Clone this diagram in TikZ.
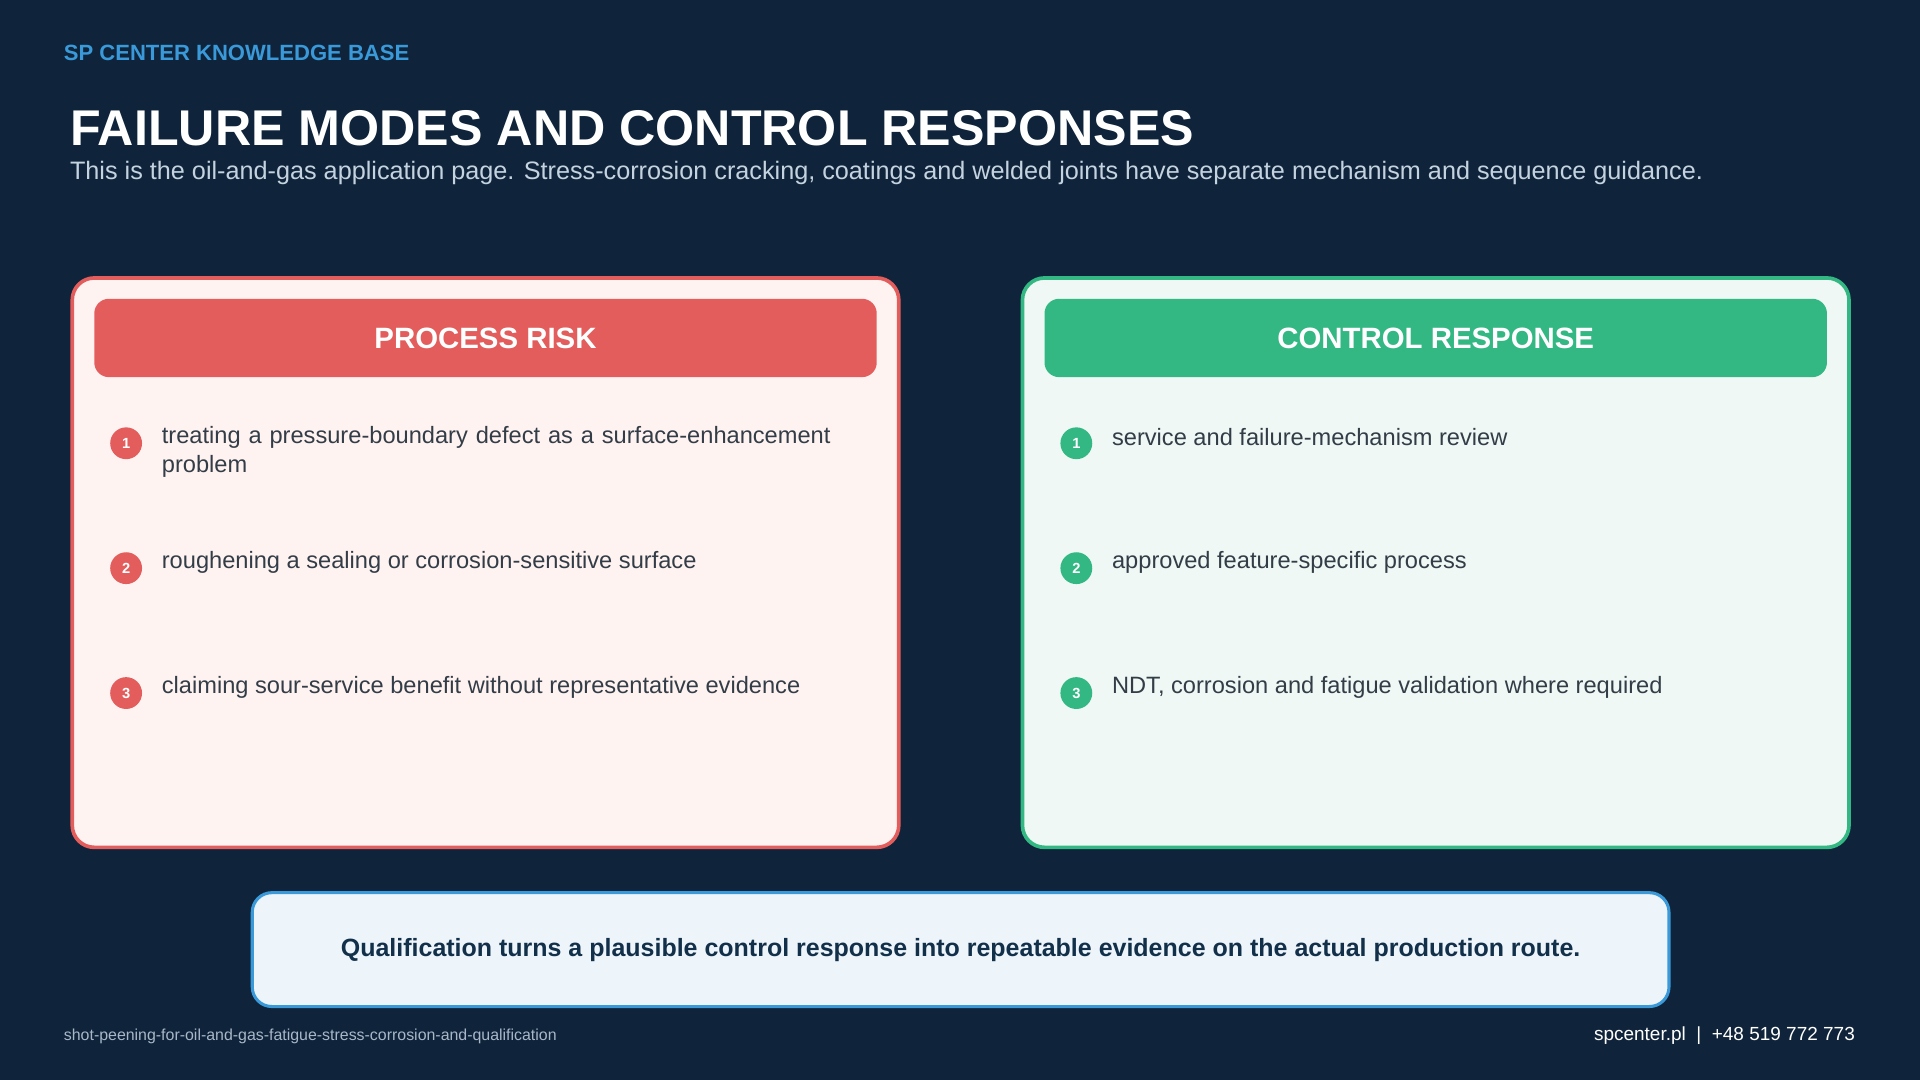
\documentclass[tikz,border=0pt]{standalone}
\usepackage{fontspec}
\setmainfont{Liberation Sans}
\begin{document}
\begin{tikzpicture}[x=1pt,y=-1pt,
  txt/.style={anchor=west,inner sep=0pt,font=\fontsize{19.3}{24}\selectfont,text=itemtxt,align=left},
  num/.style={circle,minimum size=26pt,inner sep=0pt,text=white,font=\fontsize{12}{12}\selectfont\bfseries},
  hdr/.style={rounded corners=12pt,text=white,font=\fontsize{24}{24}\selectfont\bfseries}]
\definecolor{bg}{HTML}{0F243A}
\definecolor{blu}{HTML}{3A9AD9}
\definecolor{red}{HTML}{E35D5D}
\definecolor{redf}{HTML}{FFF3F1}
\definecolor{grn}{HTML}{33B883}
\definecolor{grnf}{HTML}{EFF8F4}
\definecolor{botf}{HTML}{EDF4FA}
\definecolor{dark}{HTML}{13304A}
\definecolor{itemtxt}{HTML}{333D47}
\definecolor{sub}{HTML}{C5D3E0}
\definecolor{foot}{HTML}{A9B8C8}
\fill[bg] (0,0) rectangle (1568,882);
\useasboundingbox (0,0) rectangle (1568,882);
\node[anchor=west,inner sep=0pt,text=blu,font=\fontsize{18}{18}\selectfont\bfseries] (kb) at (52,43) {SP CENTER KNOWLEDGE BASE};
\node[anchor=west,inner sep=0pt,text=white,font=\fontsize{41}{41}\selectfont\bfseries] (title) at (57,105) {FAILURE MODES AND CONTROL RESPONSES};
\node[anchor=west,inner sep=0pt,text=sub,font=\fontsize{20.6}{20.6}\selectfont] (subt) at (57,141) {This is the oil-and-gas application page. Stress-corrosion cracking, coatings and welded joints have separate mechanism and sequence guidance.};
% left panel
\draw[red,line width=3pt,fill=redf,rounded corners=18pt] (59,227) rectangle (734,692);
\node[hdr,fill=red,minimum width=639pt,minimum height=64pt] (lh) at (396.5,276) {PROCESS RISK};
\node[num,fill=red] (l1) at (103,362) {1};
\node[num,fill=red] (l2) at (103,464) {2};
\node[num,fill=red] (l3) at (103,566) {3};
\node[txt,anchor=north west,text width=570pt] (lt1) at (132,348) {treating a pressure-boundary defect as a surface-enhancement problem};
\node[txt] (lt2) at (132,459) {roughening a sealing or corrosion-sensitive surface};
\node[txt] (lt3) at (132,561) {claiming sour-service benefit without representative evidence};
% right panel
\draw[grn,line width=3pt,fill=grnf,rounded corners=18pt] (835,227) rectangle (1510,692);
\node[hdr,fill=grn,minimum width=639pt,minimum height=64pt] (rh) at (1172.5,276) {CONTROL RESPONSE};
\node[num,fill=grn] (r1) at (879,362) {1};
\node[num,fill=grn] (r2) at (879,464) {2};
\node[num,fill=grn] (r3) at (879,566) {3};
\node[txt] (rt1) at (908,357) {service and failure-mechanism review};
\node[txt] (rt2) at (908,459) {approved feature-specific process};
\node[txt] (rt3) at (908,561) {NDT, corrosion and fatigue validation where required};
% bottom
\draw[blu,line width=2.5pt,fill=botf,rounded corners=16pt] (206,729) rectangle (1363,822);
\node[inner sep=0pt,text=dark,font=\fontsize{20.4}{20.4}\selectfont\bfseries] (bt) at (784.5,776) {Qualification turns a plausible control response into repeatable evidence on the actual production route.};
\node[anchor=west,inner sep=0pt,text=foot,font=\fontsize{13}{13}\selectfont] (fl) at (52,846) {shot-peening-for-oil-and-gas-fatigue-stress-corrosion-and-qualification};
\node[anchor=east,inner sep=0pt,text=white,font=\fontsize{15.5}{15.5}\selectfont] (fr) at (1515,846) {spcenter.pl\ \ |\ \ +48 519 772 773};
\end{tikzpicture}
\end{document}
